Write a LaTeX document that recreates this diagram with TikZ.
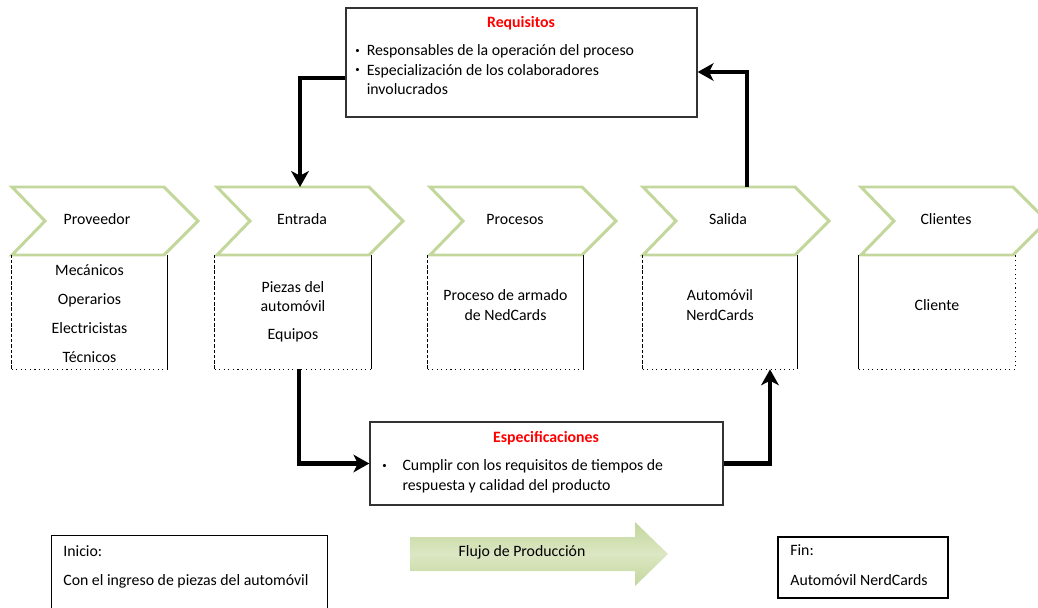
\documentclass[tikz,border=0pt]{standalone}
\usepackage{fontspec}
\setmainfont{Carlito}
\usetikzlibrary{arrows.meta}

\newlength\pxu
\setlength\pxu{0.02cm}
\definecolor{chevgreen}{HTML}{C3D69B}
\definecolor{flowdark}{HTML}{C3D69B}
\definecolor{flowlight}{HTML}{DCE7C4}
\definecolor{titlered}{HTML}{FF0000}
\newcommand\smallbul{\raisebox{0.3ex}{\fontsize{5}{5}\selectfont\textbullet}}

\tikzset{
  chevline/.style={draw=chevgreen, line width=1.7pt, line join=miter},
  chevtext/.style={inner sep=0pt},
  stepbox/.style={minimum height=114\pxu, inner sep=0pt, align=center},
  infobox/.style={draw=black!80, line width=0.8pt},
  redtitle/.style={text=titlered, font=\fontsize{9}{11}\selectfont\bfseries, inner sep=0pt},
  flowline/.style={line width=2.6pt, -{Stealth[length=9pt, width=10pt, inset=2.5pt]}},
}

\begin{document}
\begin{tikzpicture}[x=0.02cm, y=-0.02cm, font=\fontsize{9}{11}\selectfont]
    \useasboundingbox (0,0) rectangle (1038,608);

    % chevrons of the process chain
    \foreach \x/\name/\txt in {12/pv/Proveedor, 217/en/Entrada, 430/pr/Procesos, 643/sa/Salida, 861/cl/Clientes} {
        \draw[chevline] (\x,187) -- (\x+152,187) -- (\x+186,221) -- (\x+152,255) -- (\x,255) -- (\x+33,221) -- cycle;
        \node[chevtext] (\name) at (\x+85,219) {\txt};
    }

    % boxes below the chevrons
    \node[stepbox, minimum width=155\pxu] (pvb) at (89.5,312) {\\[-3pt]Mecánicos\\[5.5pt]Operarios\\[5.5pt]Electricistas\\[5.5pt]Técnicos};
    \node[stepbox, minimum width=156\pxu] (enb) at (293,312) {Piezas del\\automóvil\\[5pt]Equipos};
    \node[stepbox, minimum width=155\pxu] (prb) at (505.5,312) {Proceso de armado\\de NedCards\\[-3pt]};
    \node[stepbox, minimum width=154\pxu] (sab) at (720,312) {Automóvil\\NerdCards\\[-3pt]};
    \node[stepbox, minimum width=156\pxu] (clb) at (937,312) {Cliente\\[-3pt]};

    \foreach \b in {pvb, enb, prb, sab} {
        \draw[dashed, line width=0.6pt, dash pattern=on 2pt off 1pt] (\b.north west) -- (\b.south west);
        \draw[dotted, line width=0.6pt] (\b.south west) -- (\b.south east);
        \draw[line width=0.6pt] (\b.south east) -- (\b.north east);
    }
    \draw[line width=0.6pt] (clb.north west) -- (clb.south west);
    \draw[dotted, line width=0.6pt] (clb.south west) -- (clb.south east) -- (clb.north east);

    % Requisitos
    \node[infobox, minimum width=351\pxu, minimum height=109\pxu] (req) at (521.5,62.5) {};
    \node[redtitle] (reqt) at (521,23) {Requisitos};
    \node[anchor=north west, inner sep=0pt] (reql) at (355,42) {%
        \begin{tabular}{@{}l@{\hspace{4pt}}l@{}}
        \smallbul & Responsables de la operación del proceso\\
        \smallbul & Especialización de los colaboradores\\
                  & involucrados
        \end{tabular}};

    % Especificaciones
    \node[infobox, minimum width=353\pxu, minimum height=83\pxu] (spec) at (546.5,463.5) {};
    \node[redtitle] (spect) at (546,438) {Especificaciones};
    \node[anchor=north west, inner sep=0pt] (specl) at (382,457) {%
        \begin{tabular}{@{}l@{\hspace{9pt}}l@{}}
        \smallbul & Cumplir con los requisitos de tiempos de\\
                  & respuesta y calidad del producto
        \end{tabular}};

    % connectors
    \coordinate (entop) at (300,187);
    \coordinate (satop) at (747,187);
    \draw[flowline] ([yshift=-15.5\pxu]req.west) -| (entop);
    \draw[flowline] (satop) |- ([yshift=-9.5\pxu]req.east);
    \draw[flowline] ([xshift=6\pxu]enb.south) |- (spec.west);
    \draw[flowline] (spec.east) -| ([xshift=50\pxu]sab.south);

    % flujo de produccion
    \shade[top color=flowdark, bottom color=flowdark, middle color=flowlight]
        (410,537) -- (635,537) -- (635,522) -- (668,554) -- (635,586) -- (635,571) -- (410,571) -- cycle;
    \node (flow) at (522,552) {Flujo de Producción};

    % inicio y fin
    \node[minimum width=275\pxu, minimum height=72\pxu, inner sep=0pt] (ini) at (189.5,572) {};
    \draw[line width=0.8pt] (ini.south west) -- (ini.north west) -- (ini.north east) -- (ini.south east);
    \node[anchor=west, inner sep=0pt] (init) at (63,551) {Inicio:};
    \node[anchor=west, inner sep=0pt] (inix) at (63,581) {Con el ingreso de piezas del automóvil};

    \node[draw, line width=0.8pt, minimum width=170\pxu, minimum height=61\pxu] (fin) at (863,567.5) {};
    \node[anchor=west, inner sep=0pt] (fint) at (790,550) {Fin:};
    \node[anchor=west, inner sep=0pt] (finx) at (790,580) {Automóvil NerdCards};
\end{tikzpicture}
\end{document}
